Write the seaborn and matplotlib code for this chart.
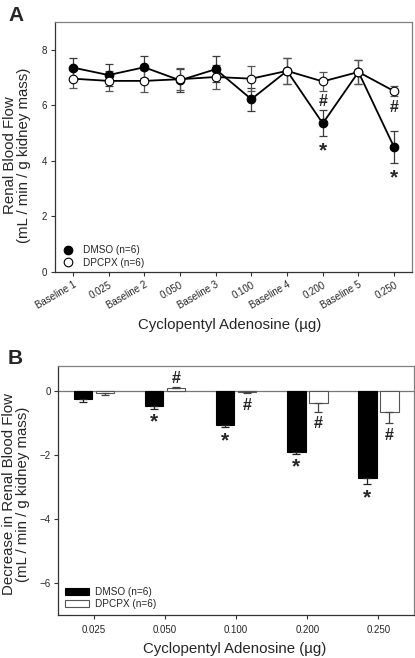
import numpy as np
import pandas as pd
import matplotlib
matplotlib.use("Agg")
import matplotlib.pyplot as plt
import seaborn as sns
from matplotlib.patches import Patch
from matplotlib.lines import Line2D

# ---------------- data ----------------
a_labels = ["Baseline 1", "0.025", "Baseline 2", "0.050", "Baseline 3",
            "0.100", "Baseline 4", "0.200", "Baseline 5", "0.250"]
a_dmso = [7.36, 7.09, 7.37, 6.90, 7.30, 6.22, 7.24, 5.35, 7.20, 4.49]
a_dmso_err = [0.36, 0.39, 0.40, 0.42, 0.47, 0.41, 0.47, 0.47, 0.44, 0.57]
a_dpcpx = [6.96, 6.88, 6.88, 6.94, 7.02, 6.96, 7.24, 6.86, 7.20, 6.51]
a_dpcpx_err = [0.32, 0.36, 0.39, 0.40, 0.44, 0.45, 0.47, 0.33, 0.44, 0.17]
a_hash = ["", "", "", "", "", "", "", "#", "", "#"]
a_star = ["", "", "", "", "", "", "", "*", "", "*"]

b_labels = ["0.025", "0.050", "0.100", "0.200", "0.250"]
b_dmso = [-0.27, -0.48, -1.08, -1.92, -2.72]
b_dmso_err = [0.07, 0.08, 0.06, 0.05, 0.20]
b_dpcpx = [-0.08, 0.075, -0.05, -0.37, -0.68]
b_dpcpx_err = [0.06, 0.05, 0.02, 0.28, 0.34]
b_star = ["", "*", "*", "*", "*"]
b_hash = ["", "#", "#", "#", "#"]

groups = ["DMSO (n=6)", "DPCPX (n=6)"]

# ---------------- style ----------------
sns.set_theme(style="ticks")
plt.rcParams["font.family"] = ["Liberation Sans", "DejaVu Sans"]
plt.rcParams["axes.linewidth"] = 0.9

fig = plt.figure(figsize=(4.15, 6.58), dpi=100)
axA = fig.add_axes([55 / 415, 1 - 272 / 658, 357 / 415, 250 / 658])
axB = fig.add_axes([58.3 / 415, 1 - 615 / 658, 355.7 / 415, 249.3 / 658])

TICK_FS = 7.0
LAB_FS = 10.8
STAR_FS = 15
HASH_FS = 11.5

# ---------------- Panel A ----------------
dfA = pd.DataFrame({
    "dose": a_labels * 2,
    "rbf": a_dmso + a_dpcpx,
    "group": [groups[0]] * len(a_labels) + [groups[1]] * len(a_labels),
})
xA = np.arange(len(a_labels))
axA.errorbar(xA, a_dmso, yerr=a_dmso_err, fmt="none", ecolor="#3a3a3a",
             elinewidth=0.9, capsize=3.2, capthick=0.9, zorder=2)
axA.errorbar(xA, a_dpcpx, yerr=a_dpcpx_err, fmt="none", ecolor="#555555",
             elinewidth=0.9, capsize=3.2, capthick=0.9, zorder=2)
sns.lineplot(data=dfA[dfA.group == groups[0]], x="dose", y="rbf", ax=axA,
             color="black", linewidth=1.3, marker="o", markersize=6.2,
             markerfacecolor="black", markeredgecolor="black",
             markeredgewidth=0.8, sort=False, zorder=3, legend=False)
sns.lineplot(data=dfA[dfA.group == groups[1]], x="dose", y="rbf", ax=axA,
             color="black", linewidth=1.3, marker="o", markersize=6.2,
             markerfacecolor="white", markeredgecolor="black",
             markeredgewidth=0.8, sort=False, zorder=4, legend=False)

for i in range(len(a_labels)):
    if a_hash[i]:
        axA.text(xA[i], a_dpcpx[i] - a_dpcpx_err[i] - 0.40, a_hash[i],
                 ha="center", va="center", fontsize=HASH_FS, fontweight="bold")
    if a_star[i]:
        axA.text(xA[i], a_dmso[i] - a_dmso_err[i] - 0.52, a_star[i],
                 ha="center", va="center", fontsize=STAR_FS, fontweight="bold")

axA.set_xlim(-0.5, len(a_labels) - 0.5)
axA.set_ylim(0, 9)
axA.set_yticks([0, 2, 4, 6, 8])
axA.set_xticks(xA)
axA.set_xticklabels(a_labels, rotation=30, ha="right", rotation_mode="anchor",
                    fontsize=TICK_FS)
axA.tick_params(axis="y", labelsize=TICK_FS)
axA.tick_params(length=3, width=0.8, color="#333333", pad=2.5)
axA.set_xlabel("Cyclopentyl Adenosine (µg)", fontsize=LAB_FS)
axA.set_ylabel("Renal Blood Flow\n(mL / min / g kidney mass)", fontsize=LAB_FS,
               linespacing=1.0)
axA.yaxis.set_label_coords(-0.068, 0.468)
axA.xaxis.set_label_coords(0.49, -0.182)

legA = [Line2D([], [], color="black", marker="o", linestyle="none",
               markersize=6.2, markerfacecolor="black", markeredgewidth=0.8,
               label=groups[0]),
        Line2D([], [], color="black", marker="o", linestyle="none",
               markersize=6.2, markerfacecolor="white", markeredgewidth=0.8,
               label=groups[1])]
axA.legend(handles=legA, loc="lower left", bbox_to_anchor=(0.0, -0.01),
           frameon=False, fontsize=7.2, handletextpad=0.9, labelspacing=0.25,
           borderaxespad=0.3, handlelength=1.2)

# ---------------- Panel B ----------------
dfB = pd.DataFrame({
    "dose": b_labels * 2,
    "dec": b_dmso + b_dpcpx,
    "group": [groups[0]] * len(b_labels) + [groups[1]] * len(b_labels),
})
axB.axhline(0, color="#777777", linewidth=0.9, zorder=1)
sns.barplot(data=dfB, x="dose", y="dec", hue="group", ax=axB,
            palette={groups[0]: "black", groups[1]: "white"},
            width=0.62, gap=0.16, errorbar=None, legend=False, zorder=2,
            linewidth=0.8, edgecolor="#555555")
for bar in axB.containers[0]:
    bar.set_edgecolor("black")

for cont, vals, errs, col in [(axB.containers[0], b_dmso, b_dmso_err, "#222222"),
                              (axB.containers[1], b_dpcpx, b_dpcpx_err, "#444444")]:
    xs = [p.get_x() + p.get_width() / 2 for p in cont]
    vals = np.array(vals)
    errs = np.array(errs)
    lower = np.where(vals < 0, errs, 0)
    upper = np.where(vals >= 0, errs, 0)
    axB.errorbar(xs, vals, yerr=[lower, upper], fmt="none", ecolor=col,
                 elinewidth=0.9, capsize=3.2, capthick=0.9, zorder=3)

xs0 = [p.get_x() + p.get_width() / 2 for p in axB.containers[0]]
xs1 = [p.get_x() + p.get_width() / 2 for p in axB.containers[1]]
for i in range(len(b_labels)):
    if b_star[i]:
        axB.text(xs0[i], b_dmso[i] - b_dmso_err[i] - 0.42, b_star[i],
                 ha="center", va="center", fontsize=STAR_FS, fontweight="bold")
    if b_hash[i]:
        if b_dpcpx[i] >= 0:
            yy = b_dpcpx[i] + b_dpcpx_err[i] + 0.27
        else:
            yy = b_dpcpx[i] - b_dpcpx_err[i] - 0.38
        axB.text(xs1[i], yy, b_hash[i], ha="center", va="center",
                 fontsize=HASH_FS, fontweight="bold")

axB.set_xlim(-0.5, len(b_labels) - 0.5)
axB.set_ylim(-7, 0.78)
axB.set_yticks([-6, -4, -2, 0])
axB.tick_params(labelsize=TICK_FS, length=3, width=0.8, color="#333333", pad=2.5)
axB.tick_params(axis="x", pad=4)
axB.set_xlabel("Cyclopentyl Adenosine (µg)", fontsize=LAB_FS)
axB.set_ylabel("Decrease in Renal Blood Flow\n(mL / min / g kidney mass)",
               fontsize=LAB_FS, linespacing=1.0)
axB.yaxis.set_label_coords(-0.08, 0.485)
axB.xaxis.set_label_coords(0.497, -0.11)

legB = [Patch(facecolor="black", edgecolor="black", linewidth=0.8, label=groups[0]),
        Patch(facecolor="white", edgecolor="#555555", linewidth=0.8, label=groups[1])]
axB.legend(handles=legB, loc="lower left", bbox_to_anchor=(0.0, -0.005),
           frameon=False, fontsize=7.2, handletextpad=0.6, labelspacing=0.25,
           borderaxespad=0.3, handlelength=2.4, handleheight=0.7)

for ax in (axA, axB):
    for side in ("top", "right"):
        ax.spines[side].set_color("#808080")
    for side in ("left", "bottom"):
        ax.spines[side].set_color("#333333")

fig.text(8 / 415, 1 - 6 / 658, "A", fontsize=15, fontweight="bold",
         ha="left", va="top")
fig.text(8 / 415, 1 - 349 / 658, "B", fontsize=15, fontweight="bold",
         ha="left", va="top")

fig.savefig("out.png", dpi=100)
